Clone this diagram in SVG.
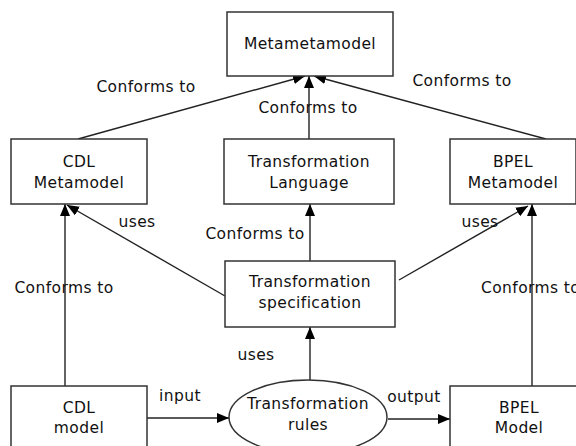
<svg xmlns="http://www.w3.org/2000/svg" width="576" height="446" viewBox="0 0 576 446">
<defs>
<marker id="ah" markerWidth="12" markerHeight="10" refX="12" refY="5" orient="auto" markerUnits="userSpaceOnUse">
<path d="M0,0 L12,5 L0,10 Z" fill="#000"/>
</marker>
<style>
.box{fill:#fff;stroke:#333;stroke-width:1.5}
.t{font-family:"Comic Sans MS","DejaVu Sans",sans-serif;font-size:15.5px;letter-spacing:0.4px;fill:#111;text-anchor:middle}
.l{font-family:"Comic Sans MS","DejaVu Sans",sans-serif;font-size:15.5px;letter-spacing:0.4px;fill:#111}
.c{stroke:#222;stroke-width:1.4;fill:none;marker-end:url(#ah)}
</style>
</defs>
<rect width="576" height="446" fill="#fff"/>
<g id="connectors">
<line class="c" x1="78" y1="139" x2="305" y2="76"/>
<line class="c" x1="309" y1="139" x2="309" y2="76"/>
<line class="c" x1="546" y1="139" x2="314" y2="76"/>
<line class="c" x1="225" y1="296" x2="67" y2="205"/>
<line class="c" x1="399" y1="280" x2="528" y2="206"/>
<line class="c" x1="310" y1="261" x2="310" y2="204"/>
<line class="c" x1="310" y1="380" x2="310" y2="327"/>
<line class="c" x1="65" y1="386" x2="65" y2="204"/>
<line class="c" x1="532" y1="386" x2="532" y2="204"/>
<line class="c" x1="147" y1="418" x2="229" y2="418"/>
<line class="c" x1="388" y1="419" x2="450" y2="419"/>
</g>
<g id="labels">
<text class="t" x="146" y="92">Conforms to</text>
<text class="t" x="308" y="113">Conforms to</text>
<text class="t" x="462" y="86">Conforms to</text>
<text class="t" x="137" y="227">uses</text>
<text class="t" x="255" y="239">Conforms to</text>
<text class="t" x="480" y="227">uses</text>
<text class="t" x="64" y="293">Conforms to</text>
<text class="l" x="481" y="293">Conforms to</text>
<text class="t" x="256" y="360">uses</text>
<text class="t" x="180" y="401">input</text>
<text class="t" x="414" y="402">output</text>
</g>
<g id="metametamodel">
<rect class="box" x="227" y="12" width="166" height="64"/>
<text class="t" x="310" y="49">Metametamodel</text>
</g>
<g id="cdl-metamodel">
<rect class="box" x="11" y="139" width="136" height="65"/>
<text class="t" x="79" y="167">CDL</text>
<text class="t" x="79" y="188">Metamodel</text>
</g>
<g id="transformation-language">
<rect class="box" x="224" y="139" width="170" height="65"/>
<text class="t" x="309" y="167">Transformation</text>
<text class="t" x="309" y="188">Language</text>
</g>
<g id="bpel-metamodel">
<rect class="box" x="450" y="139" width="126" height="65"/>
<text class="t" x="513" y="167">BPEL</text>
<text class="t" x="513" y="188">Metamodel</text>
</g>
<g id="transformation-specification">
<rect class="box" x="225" y="261" width="170" height="66"/>
<text class="t" x="310" y="287">Transformation</text>
<text class="t" x="310" y="308">specification</text>
</g>
<g id="cdl-model">
<rect class="box" x="11" y="386" width="136" height="70"/>
<text class="t" x="79" y="413">CDL</text>
<text class="t" x="79" y="433">model</text>
</g>
<g id="transformation-rules">
<ellipse class="box" cx="308" cy="417" rx="79" ry="37"/>
<text class="t" x="308" y="409">Transformation</text>
<text class="t" x="308" y="430">rules</text>
</g>
<g id="bpel-model">
<rect class="box" x="450" y="386" width="140" height="70"/>
<text class="t" x="519" y="413">BPEL</text>
<text class="t" x="519" y="433">Model</text>
</g>
</svg>
